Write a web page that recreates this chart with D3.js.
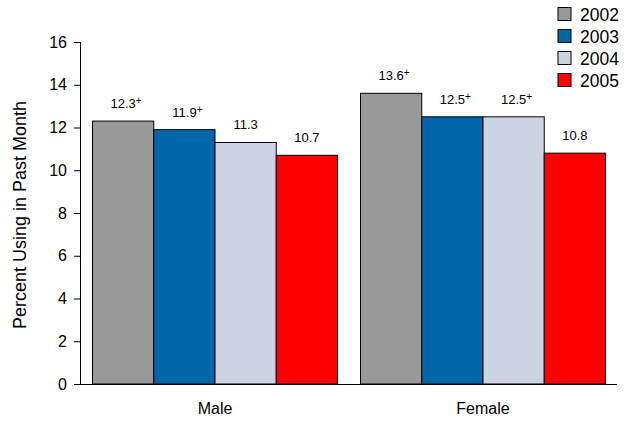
<!DOCTYPE html>
<html><head><meta charset="utf-8">
<script src="https://cdn.jsdelivr.net/npm/d3@7"></script>
<style>body{margin:0;background:#fff}svg{display:block;font-family:Arial,"Liberation Sans",sans-serif}</style>
</head><body>
<svg id="c" width="627" height="425"></svg>
<script>
const categories = ["Male", "Female"];
const years = ["2002", "2003", "2004", "2005"];
const male = [12.3, 11.9, 11.3, 10.7];
const female = [13.6, 12.5, 12.5, 10.8];
const maleLabels = ["12.3+", "11.9+", "11.3", "10.7"];
const femaleLabels = ["13.6+", "12.5+", "12.5+", "10.8"];
const yTicks = [0, 2, 4, 6, 8, 10, 12, 14, 16];
const colors = ["#999999", "#0066AA", "#CCD3E3", "#FF0000"];

const values = [male, female];
const labels = [maleLabels, femaleLabels];
const svg = d3.select("#c");
const L = 81, R = 617, T = 42, B = 384;
const x0 = d3.scaleBand().domain(categories).range([L, R]).paddingInner(0).paddingOuter(0);
const x1 = d3.scaleBand().domain(years).range([11.5, x0.bandwidth() - 11.5]);
const y = d3.scaleLinear().domain([0, 16]).range([B, T]);

// bars
categories.forEach((c, ci) => {
  const g = svg.append("g").attr("transform", `translate(${x0(c)},0)`);
  years.forEach((yr, i) => {
    const v = values[ci][i];
    g.append("rect").attr("x", x1(yr)).attr("y", y(v))
      .attr("width", x1.bandwidth()).attr("height", y(0) - y(v))
      .attr("fill", colors[i]).attr("stroke", "#000").attr("stroke-width", 1);
    const lab = labels[ci][i];
    const plus = lab.endsWith("+");
    const t = g.append("text").attr("x", x1(yr) + x1.bandwidth() / 2 + (plus ? 3 : 0)).attr("y", y(v) - 13)
      .attr("text-anchor", "middle").attr("font-size", 13).attr("fill", "#000");
    t.append("tspan").text(plus ? lab.slice(0, -1) : lab);
    if (plus) t.append("tspan").attr("font-size", 10).attr("dy", -4).text("+");
  });
});

// y axis
const ya = svg.append("g").attr("transform", `translate(${L},0)`)
  .call(d3.axisLeft(y).tickValues(yTicks).tickSize(7).tickPadding(7).tickFormat(d3.format("d")));
ya.select(".domain").attr("stroke", "#000").attr("d", `M-0.5,${T}V${B}`);
ya.selectAll(".tick line").attr("stroke", "#000");
ya.selectAll(".tick text").attr("font-size", 16).attr("font-family", "Arial,'Liberation Sans',sans-serif").attr("fill", "#000");

// x axis
const xa = svg.append("g").attr("transform", `translate(0,${B})`)
  .call(d3.axisBottom(x0).tickSize(0).tickPadding(19));
xa.select(".domain").attr("stroke", "#000").attr("d", `M${L - 7},0.5H${R}`);
xa.selectAll(".tick text").attr("font-size", 16).attr("font-family", "Arial,'Liberation Sans',sans-serif").attr("fill", "#000");

// y label
svg.append("text").attr("transform", `translate(26,${(T + B) / 2 + 2}) rotate(-90)`)
  .attr("text-anchor", "middle").attr("font-size", 18).text("Percent Using in Past Month");

// legend
years.forEach((yr, i) => {
  const gy = 14 + i * 22;
  svg.append("rect").attr("x", 558).attr("y", gy - 6.5).attr("width", 13).attr("height", 13)
    .attr("fill", colors[i]).attr("stroke", "#000").attr("stroke-width", 1);
  svg.append("text").attr("x", 580).attr("y", gy + 6.5).attr("font-size", 17.5).text(yr);
});
</script>
</body></html>
